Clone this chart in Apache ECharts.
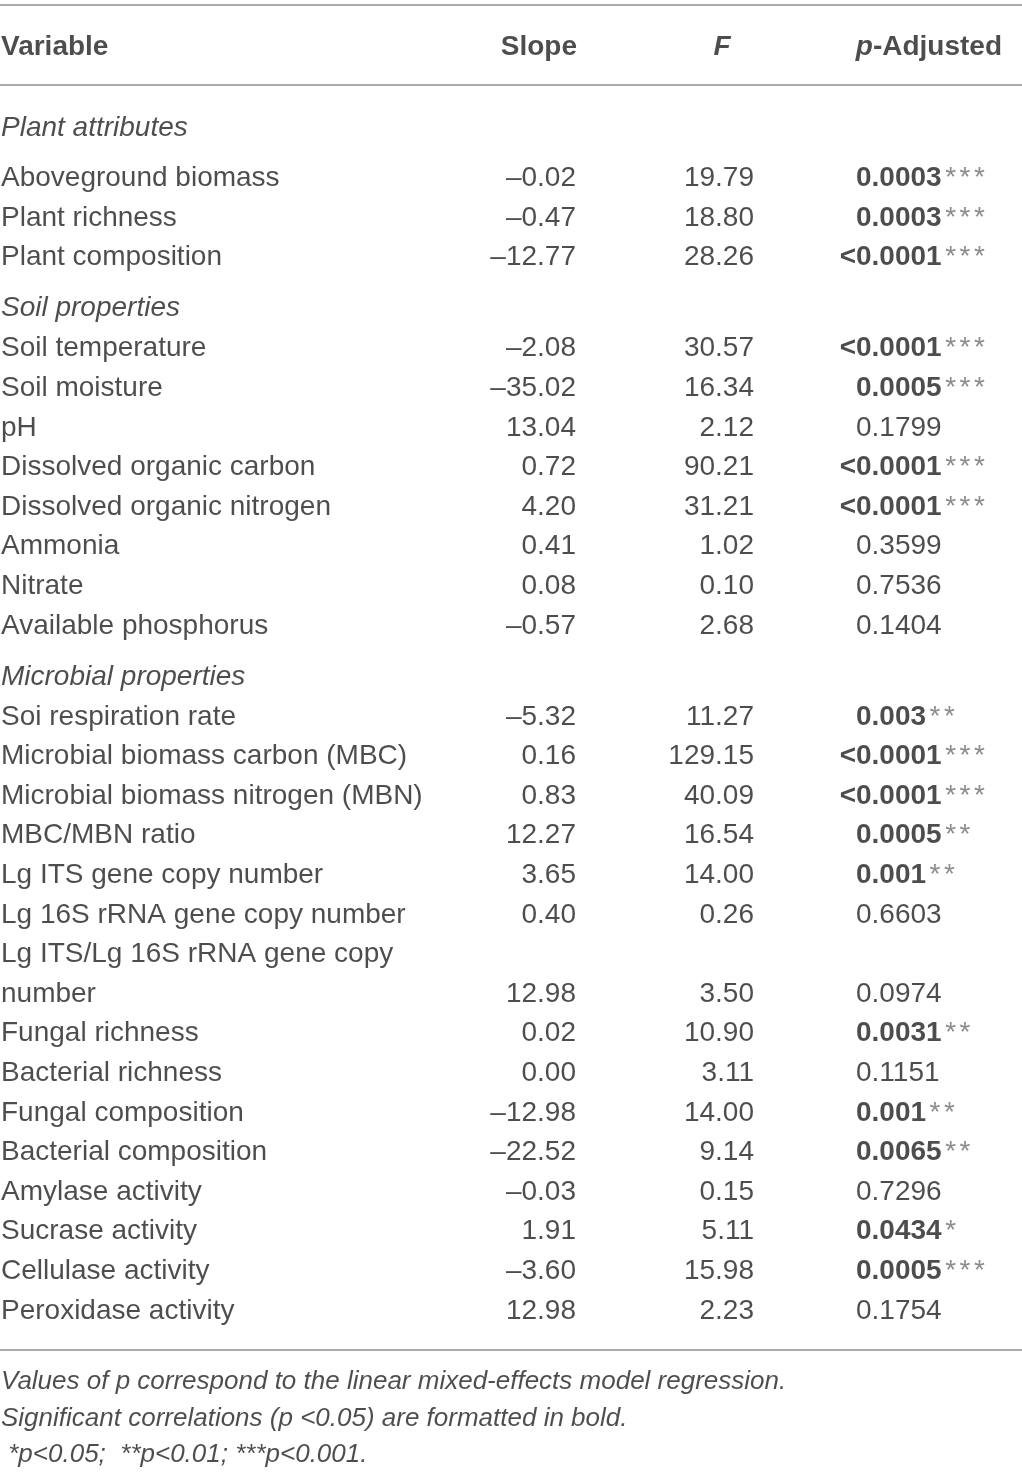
<!DOCTYPE html>
<html lang="en">
<head>
  <meta charset="UTF-8">
  <title>Table</title>
  <style>
    html, body { margin: 0; padding: 0; background: #fff; }
  </style>
</head>
<body>
  <div class="wrapper" style="width:1022px;height:1483px;"></div>

  <script src="https://cdn.jsdelivr.net/npm/echarts@6/dist/echarts.min.js"></script>
  <script>
    // table content
    const headers = ['Variable', 'Slope', 'F', 'p-Adjusted']
    const sectionTitles = ['Plant attributes', 'Soil properties', 'Microbial properties']
    const sectionSizes = [3, 8, 15]
    const variables = [
      'Aboveground biomass', 'Plant richness', 'Plant composition',
      'Soil temperature', 'Soil moisture', 'pH', 'Dissolved organic carbon',
      'Dissolved organic nitrogen', 'Ammonia', 'Nitrate', 'Available phosphorus',
      'Soi respiration rate', 'Microbial biomass carbon (MBC)', 'Microbial biomass nitrogen (MBN)',
      'MBC/MBN ratio', 'Lg ITS gene copy number', 'Lg 16S rRNA gene copy number',
      'Lg ITS/Lg 16S rRNA gene copy\nnumber', 'Fungal richness', 'Bacterial richness',
      'Fungal composition', 'Bacterial composition', 'Amylase activity', 'Sucrase activity',
      'Cellulase activity', 'Peroxidase activity'
    ]
    const slopes = [
      -0.02, -0.47, -12.77,
      -2.08, -35.02, 13.04, 0.72, 4.20, 0.41, 0.08, -0.57,
      -5.32, 0.16, 0.83, 12.27, 3.65, 0.40, 12.98, 0.02, 0.00, -12.98, -22.52, -0.03, 1.91, -3.60, 12.98
    ]
    const fValues = [
      19.79, 18.80, 28.26,
      30.57, 16.34, 2.12, 90.21, 31.21, 1.02, 0.10, 2.68,
      11.27, 129.15, 40.09, 16.54, 14.00, 0.26, 3.50, 10.90, 3.11, 14.00, 9.14, 0.15, 5.11, 15.98, 2.23
    ]
    const pAdjusted = [
      '0.0003', '0.0003', '<0.0001',
      '<0.0001', '0.0005', '0.1799', '<0.0001', '<0.0001', '0.3599', '0.7536', '0.1404',
      '0.003', '<0.0001', '<0.0001', '0.0005', '0.001', '0.6603', '0.0974', '0.0031', '0.1151',
      '0.001', '0.0065', '0.7296', '0.0434', '0.0005', '0.1754'
    ]
    const pStars = [
      '***', '***', '***',
      '***', '***', '', '***', '***', '', '', '',
      '**', '***', '***', '**', '**', '', '', '**', '', '**', '**', '', '*', '***', ''
    ]
    const footnotes = [
      'Values of p correspond to the linear mixed-effects model regression.',
      'Significant correlations (p <0.05) are formatted in bold.',
      ' *p<0.05;  **p<0.01; ***p<0.001.'
    ]

    // layout (pixels, 1 axis unit = 1px)
    const W = 1022, H = 1483
    const ROW = 39.6
    const colName = 1, colSlope = 576, colF = 754, colFHead = 722, colP = 856, colPHead = 1002
    const ink = '#231f20'
    const font = 'Liberation Sans, Arial, Helvetica, sans-serif'

    const rich = {
      n: { fontSize: 28, color: ink, fontFamily: font },
      i: { fontSize: 28, color: ink, fontFamily: font, fontStyle: 'italic' },
      b: { fontSize: 28, color: ink, fontFamily: font, fontWeight: 'bold' },
      bi: { fontSize: 28, color: ink, fontFamily: font, fontWeight: 'bold', fontStyle: 'italic' },
      s: { fontSize: 28, color: '#707070', fontFamily: font, padding: [0, 0, 0, 3.5] },
      f: { fontSize: 26, color: ink, fontFamily: font, fontStyle: 'italic' }
    }

    const cells = []
    function cell(x, y, text, align) {
      cells.push({
        value: [x, y],
        label: { formatter: text, align: align || 'left' }
      })
    }
    const fmt = v => v.toFixed(2).replace('-', '\u2013')

    // header row
    cell(colName, 47, '{b|' + headers[0] + '}')
    cell(colSlope + 1, 47, '{b|' + headers[1] + '}', 'right')
    cell(colFHead, 47, '{bi|' + headers[2] + '}', 'center')
    cell(colPHead, 47, '{bi|p}{b|' + headers[3].slice(1) + '}', 'right')

    let y = 128
    let k = 0
    sectionTitles.forEach((title, s) => {
      if (s > 0) y += 51 - ROW
      cell(colName, y, '{i|' + title + '}')
      y += s === 0 ? 50.5 : 40
      for (let j = 0; j < sectionSizes[s]; j++, k++) {
        const lines = variables[k].split('\n')
        lines.forEach((line, li) => {
          cell(colName, y, '{n|' + line + '}')
          if (li < lines.length - 1) y += ROW
        })
        cell(colSlope, y, '{n|' + fmt(slopes[k]) + '}', 'right')
        cell(colF, y, '{n|' + fmt(fValues[k]) + '}', 'right')
        let p = pAdjusted[k]
        const bold = pStars[k] !== ''
        if (p[0] === '<') {
          cell(colP, y, bold ? '{b|<}' : '{n|<}', 'right')
          p = p.slice(1)
        }
        const stars = pStars[k].split('').map(() => '{s|*}').join('')
        cell(colP, y, (bold ? '{b|' : '{n|') + p + '}' + stars)
        y += ROW
      }
    })
    const bottomRule = y - 0.5
    footnotes.forEach((t, i) => {
      cell(colName, bottomRule + 32 + i * 36.5, '{f|' + t + '}')
    })

    const echart = echarts.init(document.querySelector('.wrapper'))
    const option = {
      animation: false,
      grid: { left: 0, right: 0, top: 0, bottom: 0 },
      xAxis: { type: 'value', min: 0, max: W, show: false },
      yAxis: { type: 'value', min: 0, max: H, inverse: true, show: false },
      series: [{
        type: 'scatter',
        symbolSize: 0,
        silent: true,
        data: cells,
        label: {
          show: true,
          position: [0, 0],
          verticalAlign: 'middle',
          rich: rich
        },
        markLine: {
          silent: true,
          symbol: 'none',
          label: { show: false },
          lineStyle: { color: '#8f8f8f', width: 1.5, type: 'solid' },
          data: [{ yAxis: 5 }, { yAxis: 84.5 }, { yAxis: bottomRule }]
        }
      }]
    }
    echart.setOption(option)
  </script>
</body>
</html>
